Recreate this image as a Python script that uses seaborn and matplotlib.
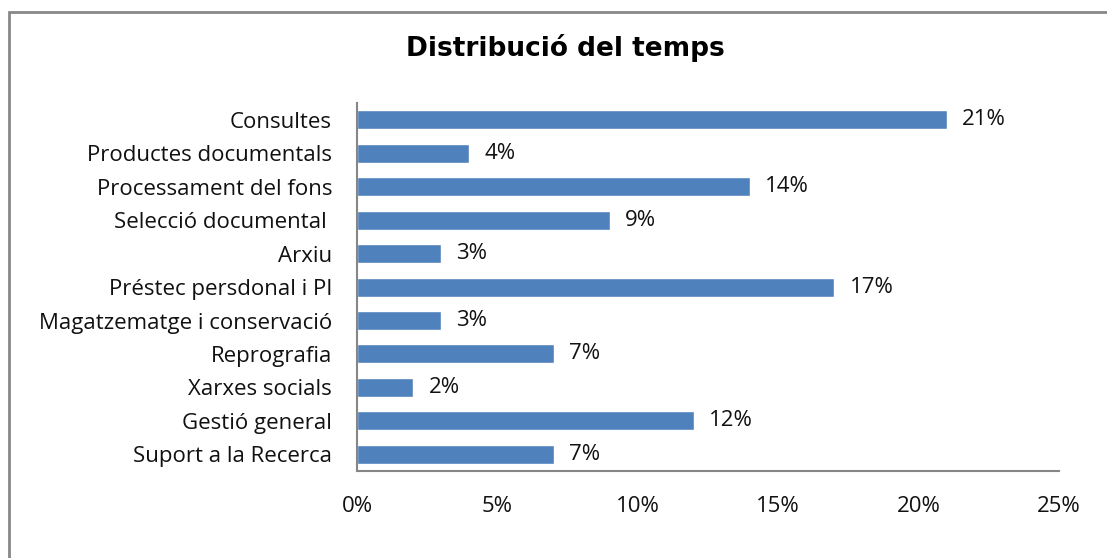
import matplotlib
matplotlib.use("Agg")
import matplotlib.pyplot as plt
import seaborn as sns
import pandas as pd
from matplotlib.ticker import PercentFormatter
from matplotlib.patches import Rectangle

# data
categories = ["Consultes", "Productes documentals", "Processament del fons",
              "Selecció documental ", "Arxiu", "Préstec persdonal i PI",
              "Magatzematge i conservació", "Reprografia", "Xarxes socials",
              "Gestió general", "Suport a la Recerca"]
shares = [21, 4, 14, 9, 3, 17, 3, 7, 2, 12, 7]
xticks = [0, 5, 10, 15, 20, 25]

df = pd.DataFrame({"categoria": categories, "percent": shares})

sns.set_style("white")
plt.rcParams["font.family"] = ["Open Sans", "DejaVu Sans"]

fig = plt.figure(figsize=(11.07, 5.58), dpi=100)
ax = fig.add_axes([0.3225, 0.156, 0.634, 0.659])

sns.barplot(data=df, x="percent", y="categoria", color="#4F81BD",
            width=0.57, orient="h", ax=ax, saturation=1)

for p, v in zip(ax.patches, shares):
    ax.annotate(f"{v}%", (p.get_width(), p.get_y() + p.get_height() / 2),
                xytext=(11, 0), textcoords="offset points",
                ha="left", va="center", fontsize=16, color="#111111")

ax.set_xlim(0, 25)
ax.set_ylim(10.5, -0.5)
ax.set_xticks(xticks)
ax.xaxis.set_major_formatter(PercentFormatter(decimals=0))
ax.set_xlabel("")
ax.set_ylabel("")
ax.tick_params(axis="x", length=0, pad=18, labelsize=16, labelcolor="#111111")
ax.tick_params(axis="y", length=0, pad=18, labelsize=16, labelcolor="#111111")
for s in ["top", "right"]:
    ax.spines[s].set_visible(False)
for s in ["left", "bottom"]:
    ax.spines[s].set_color("#868686")
    ax.spines[s].set_linewidth(1.5)

fig.text(0.511, 0.914, "Distribució del temps", ha="center", va="center",
         fontsize=19, fontweight="bold", family="DejaVu Sans", color="black")

# outer chart frame (only top and left visible in the crop)
fig.patches.append(Rectangle((9 / 1107, -0.1), 1.2, 1 - 12 / 558 + 0.1,
                             transform=fig.transFigure, fill=False,
                             edgecolor="#888888", linewidth=2))

fig.savefig("out.png", dpi=100)
